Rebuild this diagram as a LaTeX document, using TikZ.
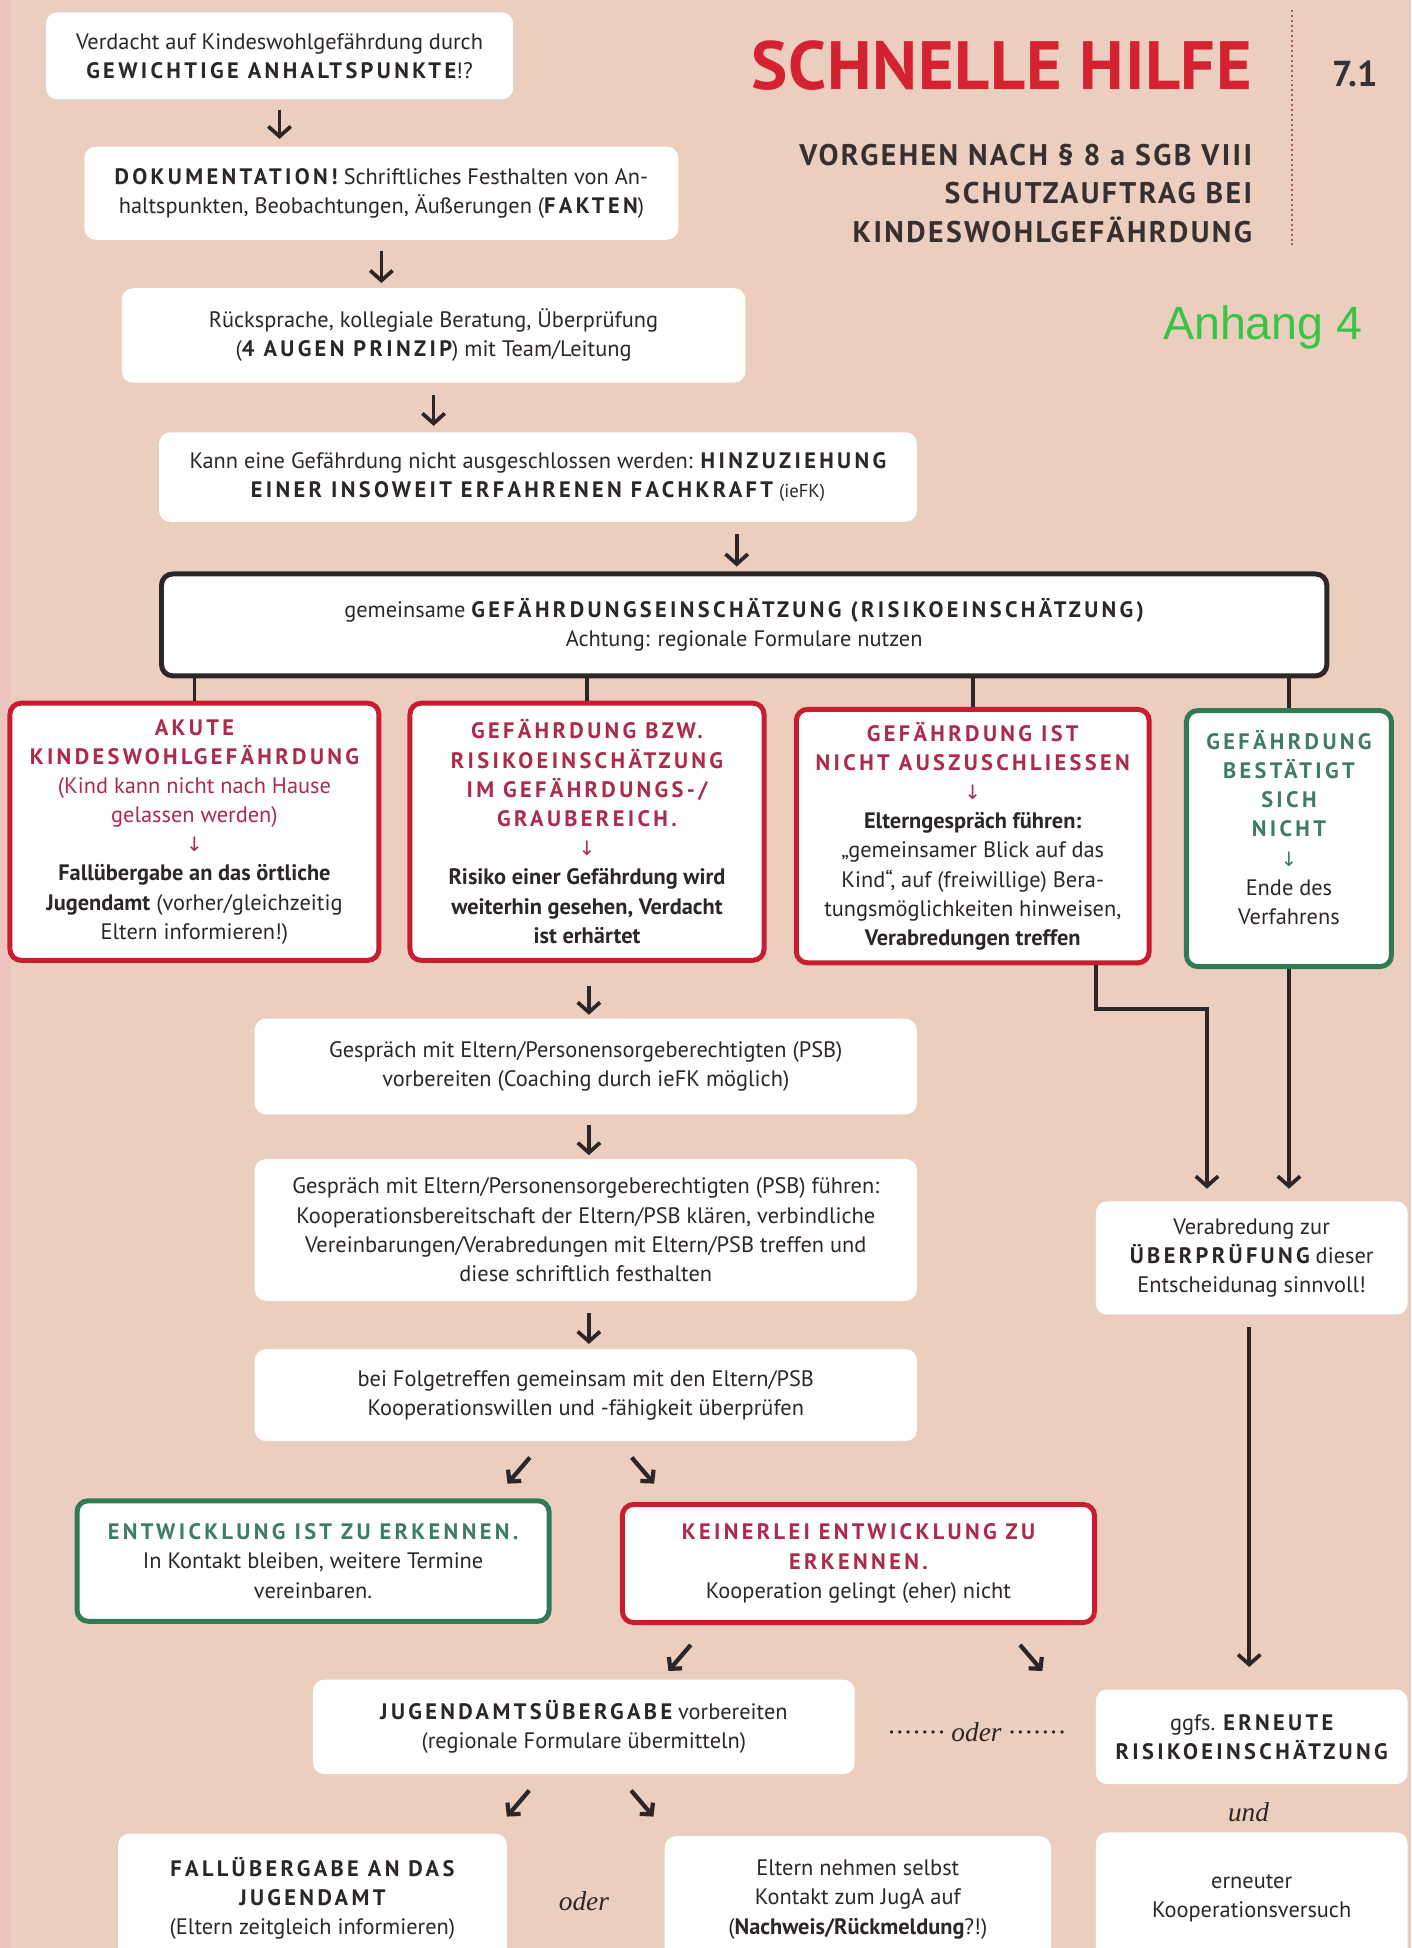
\documentclass[tikz,border=0pt]{standalone}
\usepackage{fontspec}
\setmainfont{PT Sans}
\newfontfamily\capsfam{PT Sans}[LetterSpace=15]
\newfontfamily\subfam{PT Sans}[LetterSpace=8]
\newfontfamily\titfam{PT Sans}[LetterSpace=1]
\newfontfamily\symf{DejaVu Sans}
\newfontfamily\serfam{Liberation Serif}
\newfontfamily\arialfam{Liberation Sans}
\usetikzlibrary{arrows.meta,calc}
\definecolor{bg}{RGB}{236,206,191}
\definecolor{leftpink}{RGB}{238,196,190}
\definecolor{ink}{RGB}{45,38,38}
\definecolor{redb}{RGB}{200,28,48}
\definecolor{redt}{RGB}{172,42,78}
\definecolor{greenb}{RGB}{48,122,86}
\definecolor{greent}{RGB}{62,124,104}
\definecolor{titlered}{RGB}{212,34,50}
\definecolor{anhgreen}{RGB}{58,196,70}
\definecolor{dotc}{RGB}{170,90,90}
\definecolor{subgray}{RGB}{55,48,48}
\newcommand\mycaps[1]{{\capsfam\bfseries #1}}
\newcommand\dnsym[1]{{\color{#1}\symf\fontsize{16}{16}\selectfont ↓}}
\newcommand\dotrow{·\kern1.2pt·\kern1.2pt·\kern1.2pt·\kern1.2pt·\kern1.2pt·\kern1.2pt·}
\begin{document}
\begin{tikzpicture}[x=1pt,y=-1pt,
  wbox/.style={fill=white, rounded corners=9pt, align=center, inner sep=0pt, text=ink,
    font=\fontsize{18}{23.5}\selectfont},
  redbox/.style={wbox, draw=redb, line width=4pt},
  greenbox/.style={wbox, draw=greenb, line width=4pt},
  blackbox/.style={wbox, draw=ink, line width=4pt},
  bsz/.style n args={2}{minimum width=#1pt, minimum height=#2pt},
  dn/.style={line width=3pt, draw=ink, -{Straight Barb[length=8pt,width=18pt]}},
  diag/.style={line width=3.4pt, draw=ink, -{Straight Barb[length=6.5pt,width=14pt]}},
  conn/.style={line width=3pt, draw=ink},
  itl/.style={font=\serfam\itshape\fontsize{22}{22}\selectfont, text=ink, inner sep=0pt}
]
\useasboundingbox (0,0) rectangle (1136,1568);
\fill[bg] (0,0) rectangle (1136,1568);
\fill[leftpink] (0,0) rectangle (9,1568);

% header
\node[anchor=base east, inner sep=0pt, text=titlered, font=\titfam\bfseries\fontsize{55}{55}\selectfont] (title) at (1008,72) {SCHNELLE HILFE};
\draw[line width=2.2pt, dash pattern=on 1.6pt off 2.4pt, draw=dotc] (1040,8) -- (1040,198);
\node[anchor=base west, inner sep=0pt, text=subgray, font=\bfseries\fontsize{29}{29}\selectfont] (num) at (1072,70) {7.1};
\node[anchor=base east, inner sep=0pt, text=subgray, font=\subfam\bfseries\fontsize{24}{24}\selectfont] (sub1) at (1008,133) {VORGEHEN NACH § 8 a SGB VIII};
\node[anchor=base east, inner sep=0pt, text=subgray, font=\subfam\bfseries\fontsize{24}{24}\selectfont] (sub2) at (1008,164) {SCHUTZAUFTRAG BEI};
\node[anchor=base east, inner sep=0pt, text=subgray, font=\subfam\bfseries\fontsize{24}{24}\selectfont] (sub3) at (1008,195) {KINDESWOHLGEFÄHRDUNG};
\node[anchor=base west, inner sep=0pt, text=anhgreen, font=\arialfam\fontsize{37.5}{37.5}\selectfont] (anh) at (936,273) {Anhang 4};

% main column
\node[wbox, bsz={376}{70}] (n1) at (225,45) {Verdacht auf Kindeswohlgefährdung durch\\\mycaps{GEWICHTIGE ANHALTSPUNKTE}!?};
\node[wbox, bsz={478}{75}] (n2) at (307,155.5) {\mycaps{DOKUMENTATION!} Schriftliches Festhalten von An-\\haltspunkten, Beobachtungen, Äußerungen (\mycaps{FAKTEN})};
\node[wbox, bsz={502}{76}] (n3) at (349,270) {Rücksprache, kollegiale Beratung, Überprüfung\\(\mycaps{4 AUGEN PRINZIP}) mit Team/Leitung};
\node[wbox, bsz={610}{72}] (n4) at (433,384) {Kann eine Gefährdung nicht ausgeschlossen werden: \mycaps{HINZUZIEHUNG}\\\mycaps{EINER INSOWEIT ERFAHRENEN FACHKRAFT} {\fontsize{15}{23.5}\selectfont(ieFK)}};
\node[blackbox, bsz={938}{82}] (n5) at (599,503) {gemeinsame \mycaps{GEFÄHRDUNGSEINSCHÄTZUNG (RISIKOEINSCHÄTZUNG)}\\Achtung: regionale Formulare nutzen};

\draw[dn] ([yshift=-8pt]n1.south) -- ([yshift=6pt]n1.south |- n2.north);
\draw[dn] ([yshift=-9pt]n2.south) -- ([yshift=4pt]n2.south |- n3.north);
\draw[dn] ([yshift=-10pt]n3.south) -- ([yshift=5pt]n3.south |- n4.north);
\draw[dn] ([xshift=-6pt,yshift=-10pt]n4.south -| n5.north) -- ([xshift=-6pt,yshift=4pt]n5.north);

% four outcome boxes
\node[redbox, bsz={297}{207}] (A) at (156.5,669.5) {\textcolor{redt}{\mycaps{AKUTE}}\\\textcolor{redt}{\mycaps{KINDESWOHLGEFÄHRDUNG}}\\\textcolor{redt}{(Kind kann nicht nach Hause}\\\textcolor{redt}{gelassen werden)}\\\dnsym{redt}\\\textbf{Fallübergabe an das örtliche}\\\textbf{Jugendamt} (vorher/gleichzeitig\\Eltern informieren!)};
\node[redbox, bsz={285}{207}] (B) at (472.5,669.5) {\textcolor{redt}{\mycaps{GEFÄHRDUNG BZW.}}\\\textcolor{redt}{\mycaps{RISIKOEINSCHÄTZUNG}}\\\textcolor{redt}{\mycaps{IM GEFÄHRDUNGS-/}}\\\textcolor{redt}{\mycaps{GRAUBEREICH.}}\\\dnsym{redt}\\\textbf{Risiko einer Gefährdung wird}\\\textbf{weiterhin gesehen, Verdacht}\\\textbf{ist erhärtet}};
\node[redbox, bsz={284}{204}] (C) at (783,673) {\textcolor{redt}{\mycaps{GEFÄHRDUNG IST}}\\\textcolor{redt}{\mycaps{NICHT AUSZUSCHLIESSEN}}\\\dnsym{redt}\\\textbf{Elterngespräch führen:}\\„gemeinsamer Blick auf das\\Kind“, auf (freiwillige) Bera-\\tungsmöglichkeiten hinweisen,\\\textbf{Verabredungen treffen}};
\node[greenbox, bsz={165}{206}] (D) at (1037.5,675) {};
\node[inner sep=0pt, align=center, text=ink, font=\fontsize{18}{23.5}\selectfont] (Dt) at (1037.5,666) {\textcolor{greent}{\mycaps{GEFÄHRDUNG}}\\\textcolor{greent}{\mycaps{BESTÄTIGT}}\\\textcolor{greent}{\mycaps{SICH}}\\\textcolor{greent}{\mycaps{NICHT}}\\\dnsym{greent}\\Ende des\\Verfahrens};

\draw[conn] (A.north |- n5.south) -- (A.north);
\draw[conn] (B.north |- n5.south) -- (B.north);
\draw[conn] (C.north |- n5.south) -- (C.north);
\draw[conn] (D.north |- n5.south) -- (D.north);

% middle column
\node[wbox, bsz={533}{77}] (G1) at (471.5,858.5) {Gespräch mit Eltern/Personensorgeberechtigten (PSB)\\vorbereiten (Coaching durch ieFK möglich)};
\node[wbox, bsz={533}{114}] (G2) at (471.5,990) {Gespräch mit Eltern/Personensorgeberechtigten (PSB) führen:\\Kooperationsbereitschaft der Eltern/PSB klären, verbindliche\\Vereinbarungen/Verabredungen mit Eltern/PSB treffen und\\diese schriftlich festhalten};
\node[wbox, bsz={533}{74}] (G3) at (471.5,1123) {bei Folgetreffen gemeinsam mit den Eltern/PSB\\Kooperationswillen und -fähigkeit überprüfen};

\draw[dn] ([xshift=1.5pt,yshift=-19pt]B.south) -- ([xshift=1.5pt,yshift=3pt]B.south |- G1.north);
\draw[dn] ([xshift=2.5pt,yshift=-8pt]G1.south) -- ([xshift=2.5pt,yshift=3pt]G2.north);
\draw[dn] ([xshift=2.5pt,yshift=-10pt]G2.south) -- ([xshift=2.5pt,yshift=4pt]G3.north);

\node[greenbox, bsz={380}{97}] (E) at (252,1256.5) {\textcolor{greent}{\mycaps{ENTWICKLUNG IST ZU ERKENNEN.}}\\In Kontakt bleiben, weitere Termine\\vereinbaren.};
\node[redbox, bsz={380}{95}] (F) at (691,1258.5) {\textcolor{redt}{\mycaps{KEINERLEI ENTWICKLUNG ZU}}\\\textcolor{redt}{\mycaps{ERKENNEN.}}\\Kooperation gelingt (eher) nicht};

\draw[diag] ([xshift=-45pt,yshift=-13pt]G3.south) -- ([xshift=-63pt,yshift=-34pt]G3.south);
\draw[diag] ([xshift=37pt,yshift=-13pt]G3.south) -- ([xshift=55pt,yshift=-34pt]G3.south);

\node[wbox, bsz={436}{76}] (J) at (470,1390) {\mycaps{JUGENDAMTSÜBERGABE} vorbereiten\\(regionale Formulare übermitteln)};
\draw[diag] ([xshift=-135pt,yshift=-16pt]F.south) -- ([xshift=-153pt,yshift=-37pt]F.south);
\draw[diag] ([xshift=130pt,yshift=-16pt]F.south) -- ([xshift=148pt,yshift=-37pt]F.south);

\node[itl] (oder1) at (786,1394) {\dotrow\ oder \dotrow};

\node[wbox, bsz={313}{104}] (FA) at (251.5,1528) {\mycaps{FALLÜBERGABE AN DAS}\\\mycaps{JUGENDAMT}\\(Eltern zeitgleich informieren)};
\node[wbox, bsz={311}{102}] (EL) at (690.5,1529) {Eltern nehmen selbst\\Kontakt zum JugA auf\\(\textbf{Nachweis/Rückmeldung}?!)};
\node[itl] (oder2) at (470,1530) {oder};

\draw[diag] ([xshift=-44pt,yshift=-13pt]J.south) -- ([xshift=-62pt,yshift=-34pt]J.south);
\draw[diag] ([xshift=38pt,yshift=-13pt]J.south) -- ([xshift=56pt,yshift=-34pt]J.south);

% right column
\node[wbox, bsz={251}{91}] (V) at (1007.5,1012.5) {Verabredung zur\\\mycaps{ÜBERPRÜFUNG} dieser\\Entscheidunag sinnvoll!};
\node[wbox, bsz={251}{76}] (R) at (1007.5,1398) {ggfs. \mycaps{ERNEUTE}\\\mycaps{RISIKOEINSCHÄTZUNG}};
\node[itl] (und) at (1005,1459) {und};
\node[wbox, bsz={251}{106}] (K) at (1007.5,1528) {erneuter\\Kooperationsversuch};

\draw[dn] ([xshift=-45pt]C.south east) -- ++(0,35) -| ([xshift=-36pt,yshift=10pt]V.north);
\draw[dn] (D.south) -- ([yshift=10pt]D.south |- V.north);
\draw[dn] ([xshift=-2pt,yshift=-10pt]V.south) -- ([xshift=-2pt,yshift=18pt]R.north);
\end{tikzpicture}
\end{document}
